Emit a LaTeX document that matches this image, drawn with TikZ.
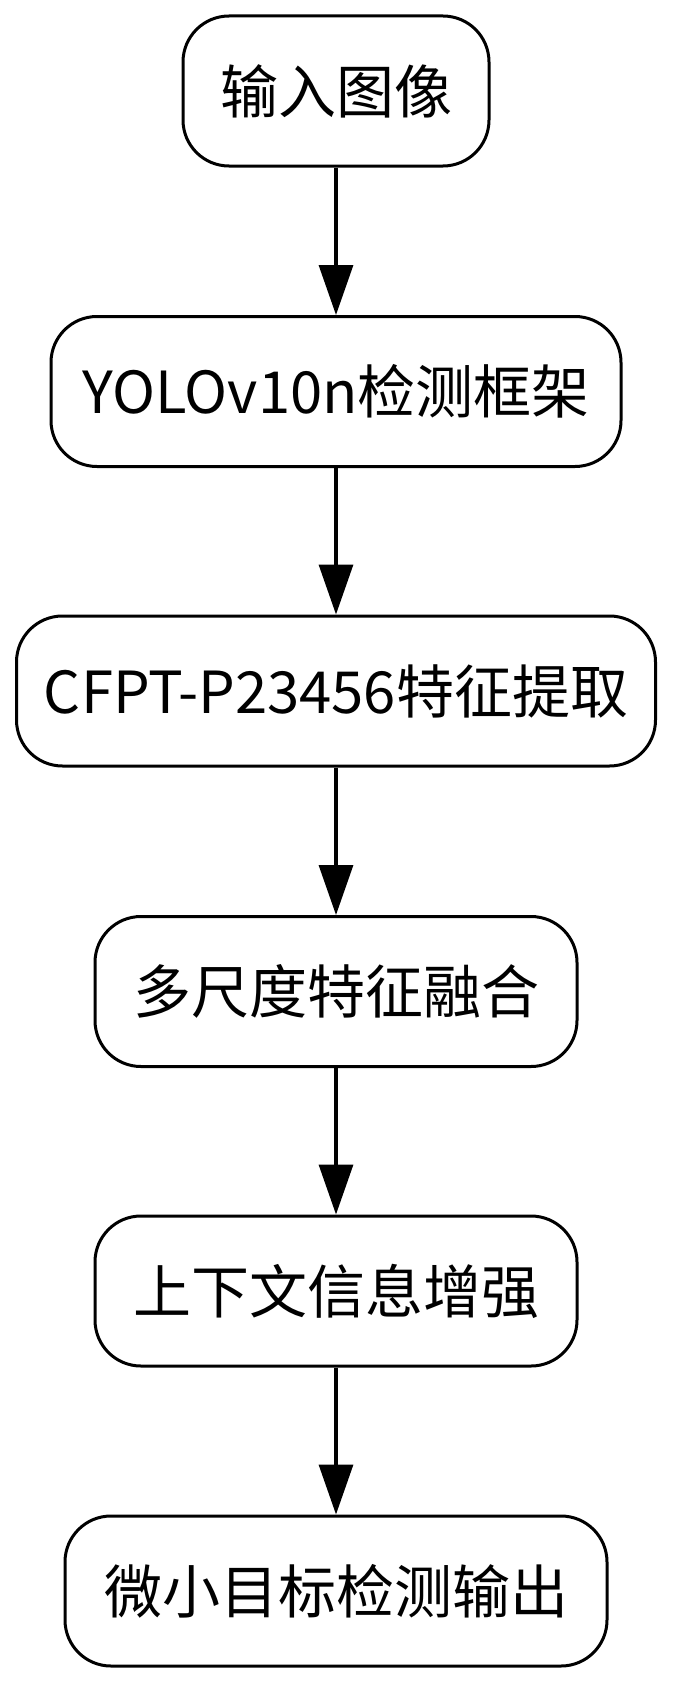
\documentclass[tikz,border=0pt]{standalone}
\usepackage{fontspec}
\setmainfont{Noto Sans CJK SC}
\usetikzlibrary{arrows.meta}
\tikzset{
  stepbox/.style={draw=black, line width=3pt, rounded corners=46pt, fill=white,
    minimum height=150pt, inner sep=0pt, font=\fontsize{58pt}{62pt}\selectfont},
  flowarrow/.style={line width=3.3pt, -{Triangle[length=50pt,width=34pt]}}
}
\begin{document}
\begin{tikzpicture}[x=1pt,y=-1pt]
\useasboundingbox (0,0) rectangle (672,1683);
\node[stepbox, minimum width=306pt] (n1) at (336,91) {输入图像};
\node[stepbox, minimum width=570pt] (n2) at (336,391.5) {YOLOv10n检测框架};
\node[stepbox, minimum width=639pt] (n3) at (336,691) {CFPT-P23456特征提取};
\node[stepbox, minimum width=482pt] (n4) at (336,991.5) {多尺度特征融合};
\node[stepbox, minimum width=482pt] (n5) at (336,1291) {上下文信息增强};
\node[stepbox, minimum width=542pt] (n6) at (336,1591) {微小目标检测输出};
\draw[flowarrow] (n1) -- (n2);
\draw[flowarrow] (n2) -- (n3);
\draw[flowarrow] (n3) -- (n4);
\draw[flowarrow] (n4) -- (n5);
\draw[flowarrow] (n5) -- (n6);
\end{tikzpicture}
\end{document}
